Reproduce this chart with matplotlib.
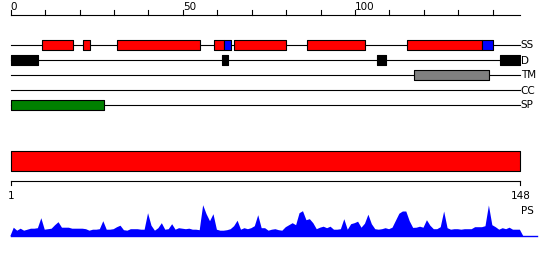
import numpy as np
import matplotlib.pyplot as plt

length = 148
track_names = ["SS", "D", "TM", "CC", "SP"]
helix = [(9, 18), (21, 23), (31, 55), (59, 62), (65, 80), (86, 103), (115, 137)]
strand = [(62, 64), (137, 140)]
disorder = [(0, 8), (61.5, 63), (106.5, 109), (142, 148)]
transmem = [(117, 139)]
coiled = []
signal = [(0, 27)]
domains = [(0, 148)]
ruler_labels = [0, 50, 100]

# per-residue profile score (last point drops to zero)
ps = [0, 8.5, 5.5, 7.5, 5.5, 6.5, 7.5, 7.5, 8, 18,
      6.5, 7, 7.5, 11, 14, 8.5, 8.5, 8.5, 7.5, 7.5,
      7.5, 7.5, 7, 5.5, 6.5, 6.5, 7, 15, 6.5, 6.5,
      7, 9, 10.5, 6, 5.5, 7, 7, 7, 6.5, 6.5,
      23, 10.5, 5.5, 8, 13, 6.5, 7, 12, 6.5, 8,
      7.5, 7, 7.5, 6.5, 6.5, 6, 31, 22, 15, 22,
      6.5, 5.5, 5.5, 6, 7, 10, 15.5, 6.5, 8, 7,
      8, 10, 21, 8, 8, 5.5, 6.5, 7, 6, 5.5,
      9, 11, 13, 11, 23, 25, 16, 17, 13, 7,
      8.5, 9.5, 8, 9.5, 6.5, 6.5, 7, 17, 6.5, 12,
      13, 14.5, 8.5, 12.5, 21.5, 12, 7, 6.5, 7, 8,
      7, 8.5, 15.5, 22.5, 24.7, 24.7, 15, 8.3, 8.5, 9.5,
      8.5, 16, 10.5, 7, 7, 9, 24.7, 8, 6.5, 7,
      7, 6.5, 7, 7, 7, 9, 9, 9, 10, 30.7,
      11, 9, 6.5, 8, 7, 8.5, 6.5, 6.5, 6.5, 0]

fig = plt.figure(figsize=(5.5, 2.6), dpi=100)
ax = fig.add_axes([0, 0, 1, 1])
px = 3.443  # pixels per residue
x0 = 10.7
ax.set_xlim(-x0 / px, (550 - x0) / px)
ax.set_ylim(260, 0)
ax.axis("off")

fs = 7.5
lw = 0.8

# top ruler
ax.plot([0, length], [15, 15], color="black", lw=lw)
for t in np.arange(0, length, 10):
    ax.plot([t, t], [10, 15], color="black", lw=lw)
for t in ruler_labels:
    ax.text(t, 10, str(t), fontsize=fs, ha="left", va="baseline")

# feature tracks
track_y = dict(zip(track_names, [45, 60, 75, 90, 105]))
h = 10
features = [("SS", helix, "#ff0000"), ("SS", strand, "#0000ff"),
            ("D", disorder, "#000000"), ("TM", transmem, "#808080"),
            ("CC", coiled, "#ffff00"), ("SP", signal, "#008000")]
for name in track_names:
    y = track_y[name]
    ax.plot([0, length], [y, y], color="black", lw=lw, zorder=1)
    ax.text(length + 0.1, y + 0.5, name, fontsize=fs, ha="left", va="center")
for name, segs, col in features:
    if segs:
        ax.broken_barh([(s, e - s) for s, e in segs], (track_y[name] - h / 2, h),
                       facecolors=col, edgecolors="black", lw=lw, zorder=2)

# domain bar
ax.broken_barh([(s, e - s) for s, e in domains], (150.5, 20),
               facecolors="#ff0000", edgecolors="black", lw=lw)

# bottom ruler
ax.plot([0, length], [180.5, 180.5], color="black", lw=lw)
for t in [0, length]:
    ax.plot([t, t], [180.5, 184.5], color="black", lw=lw)
ax.text(0, 199, "1", fontsize=fs, ha="center", va="baseline")
ax.text(length, 199, str(length), fontsize=fs, ha="center", va="baseline")
ax.text(length + 0.2, 214, "PS", fontsize=fs, ha="left", va="baseline")

# profile
base = 235.7
ps = np.array(ps)
ps_x = np.arange(len(ps)) - 0.25
ax.fill_between(ps_x, base, base - ps, color="#0000ff", lw=0)
ax.plot([0, length + 5], [base, base], color="#0000ff", lw=1)

fig.savefig("out.png", dpi=100)
